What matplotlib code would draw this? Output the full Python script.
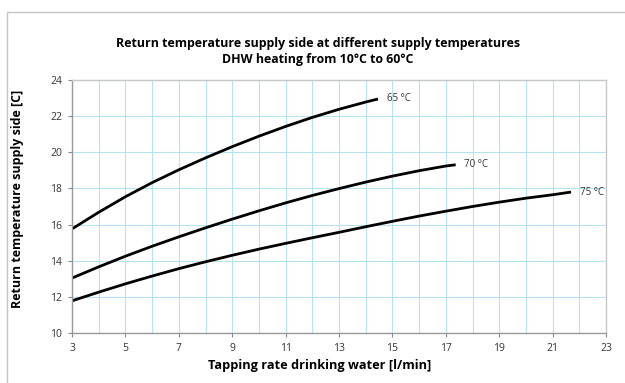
import matplotlib
matplotlib.use("Agg")
import matplotlib.pyplot as plt
from matplotlib.patches import Rectangle
from matplotlib.ticker import MultipleLocator

plt.rcParams['font.family'] = ['Open Sans', 'DejaVu Sans']

# tapping rate [l/min] and return temperature [C]
x_65 = [3, 4, 5, 6, 7, 8, 9, 10, 11, 12, 13, 14, 14.46]
y_65 = [15.76, 16.68, 17.54, 18.32, 19.03, 19.69, 20.31, 20.89, 21.43, 21.93, 22.38, 22.78, 22.95]

x_70 = [3, 4, 5, 6, 7, 8, 9, 10, 11, 12, 13, 14, 15, 16, 17, 17.37]
y_70 = [13.04, 13.66, 14.25, 14.80, 15.32, 15.82, 16.30, 16.76, 17.20, 17.61, 17.99, 18.35, 18.68, 18.98, 19.24, 19.31]

x_75 = [3, 4, 5, 6, 7, 8, 9, 10, 11, 12, 13, 14, 15, 16, 17, 18, 19, 20, 21, 21.69]
y_75 = [11.78, 12.26, 12.72, 13.15, 13.56, 13.94, 14.30, 14.64, 14.96, 15.27, 15.57, 15.88, 16.18, 16.47, 16.74, 17.00, 17.24, 17.46, 17.65, 17.80]

curves = [(x_65, y_65, "65 °C"), (x_70, y_70, "70 °C"), (x_75, y_75, "75 °C")]
x_ticks = list(range(3, 24, 2))
y_ticks = list(range(10, 25, 2))

fig = plt.figure(figsize=(6.25, 3.83), dpi=100)
ax = fig.add_axes([72 / 625, 1 - 333 / 383, 534 / 625, 253 / 383])

# light grey frame around the whole graphic (cut off right and bottom)
fig.patches.append(Rectangle((7 / 625, -0.1), 1.2, 1.1 - 11.5 / 383, transform=fig.transFigure,
                             fill=False, edgecolor='#c4c4c4', linewidth=1.0))

for xs, ys, name in curves:
    ax.plot(xs, ys, color='black', linewidth=2.0, solid_capstyle='butt')
    ax.text(xs[-1] + 0.33, ys[-1], name, fontsize=7, color='#333333', va='center', ha='left')

ax.set_xlim(3, 23)
ax.set_ylim(10, 24)
ax.set_xticks(x_ticks)
ax.set_yticks(y_ticks)
ax.xaxis.set_minor_locator(MultipleLocator(1))
ax.grid(True, which='both', color='#b9e2f0', linewidth=0.8)
ax.set_axisbelow(True)
ax.tick_params(which='major', direction='out', length=3, width=0.8, color='#888888',
               labelsize=7.5, labelcolor='#333333', pad=4)
ax.tick_params(which='minor', length=0)
for side in ['top', 'right']:
    ax.spines[side].set_color('#c8c8c8')
for side in ['left', 'bottom']:
    ax.spines[side].set_color('#999999')
for s in ax.spines.values():
    s.set_linewidth(1.0)

fig.text(0.509, 1 - 43 / 383, "Return temperature supply side at different supply temperatures",
         ha='center', va='center', fontsize=8.9, fontweight='bold')
fig.text(0.509, 1 - 59.5 / 383, "DHW heating from 10°C to 60°C",
         ha='center', va='center', fontsize=8.9, fontweight='bold')
fig.text(0.511, 1 - 366 / 383, "Tapping rate drinking water [l/min]",
         ha='center', va='center', fontsize=9.2, fontweight='bold')
fig.text(18 / 625, 1 - 199 / 383, "Return temperature supply side [C]",
         ha='center', va='center', rotation=90, fontsize=9.0, fontweight='bold')

fig.savefig("out.png", dpi=100)
